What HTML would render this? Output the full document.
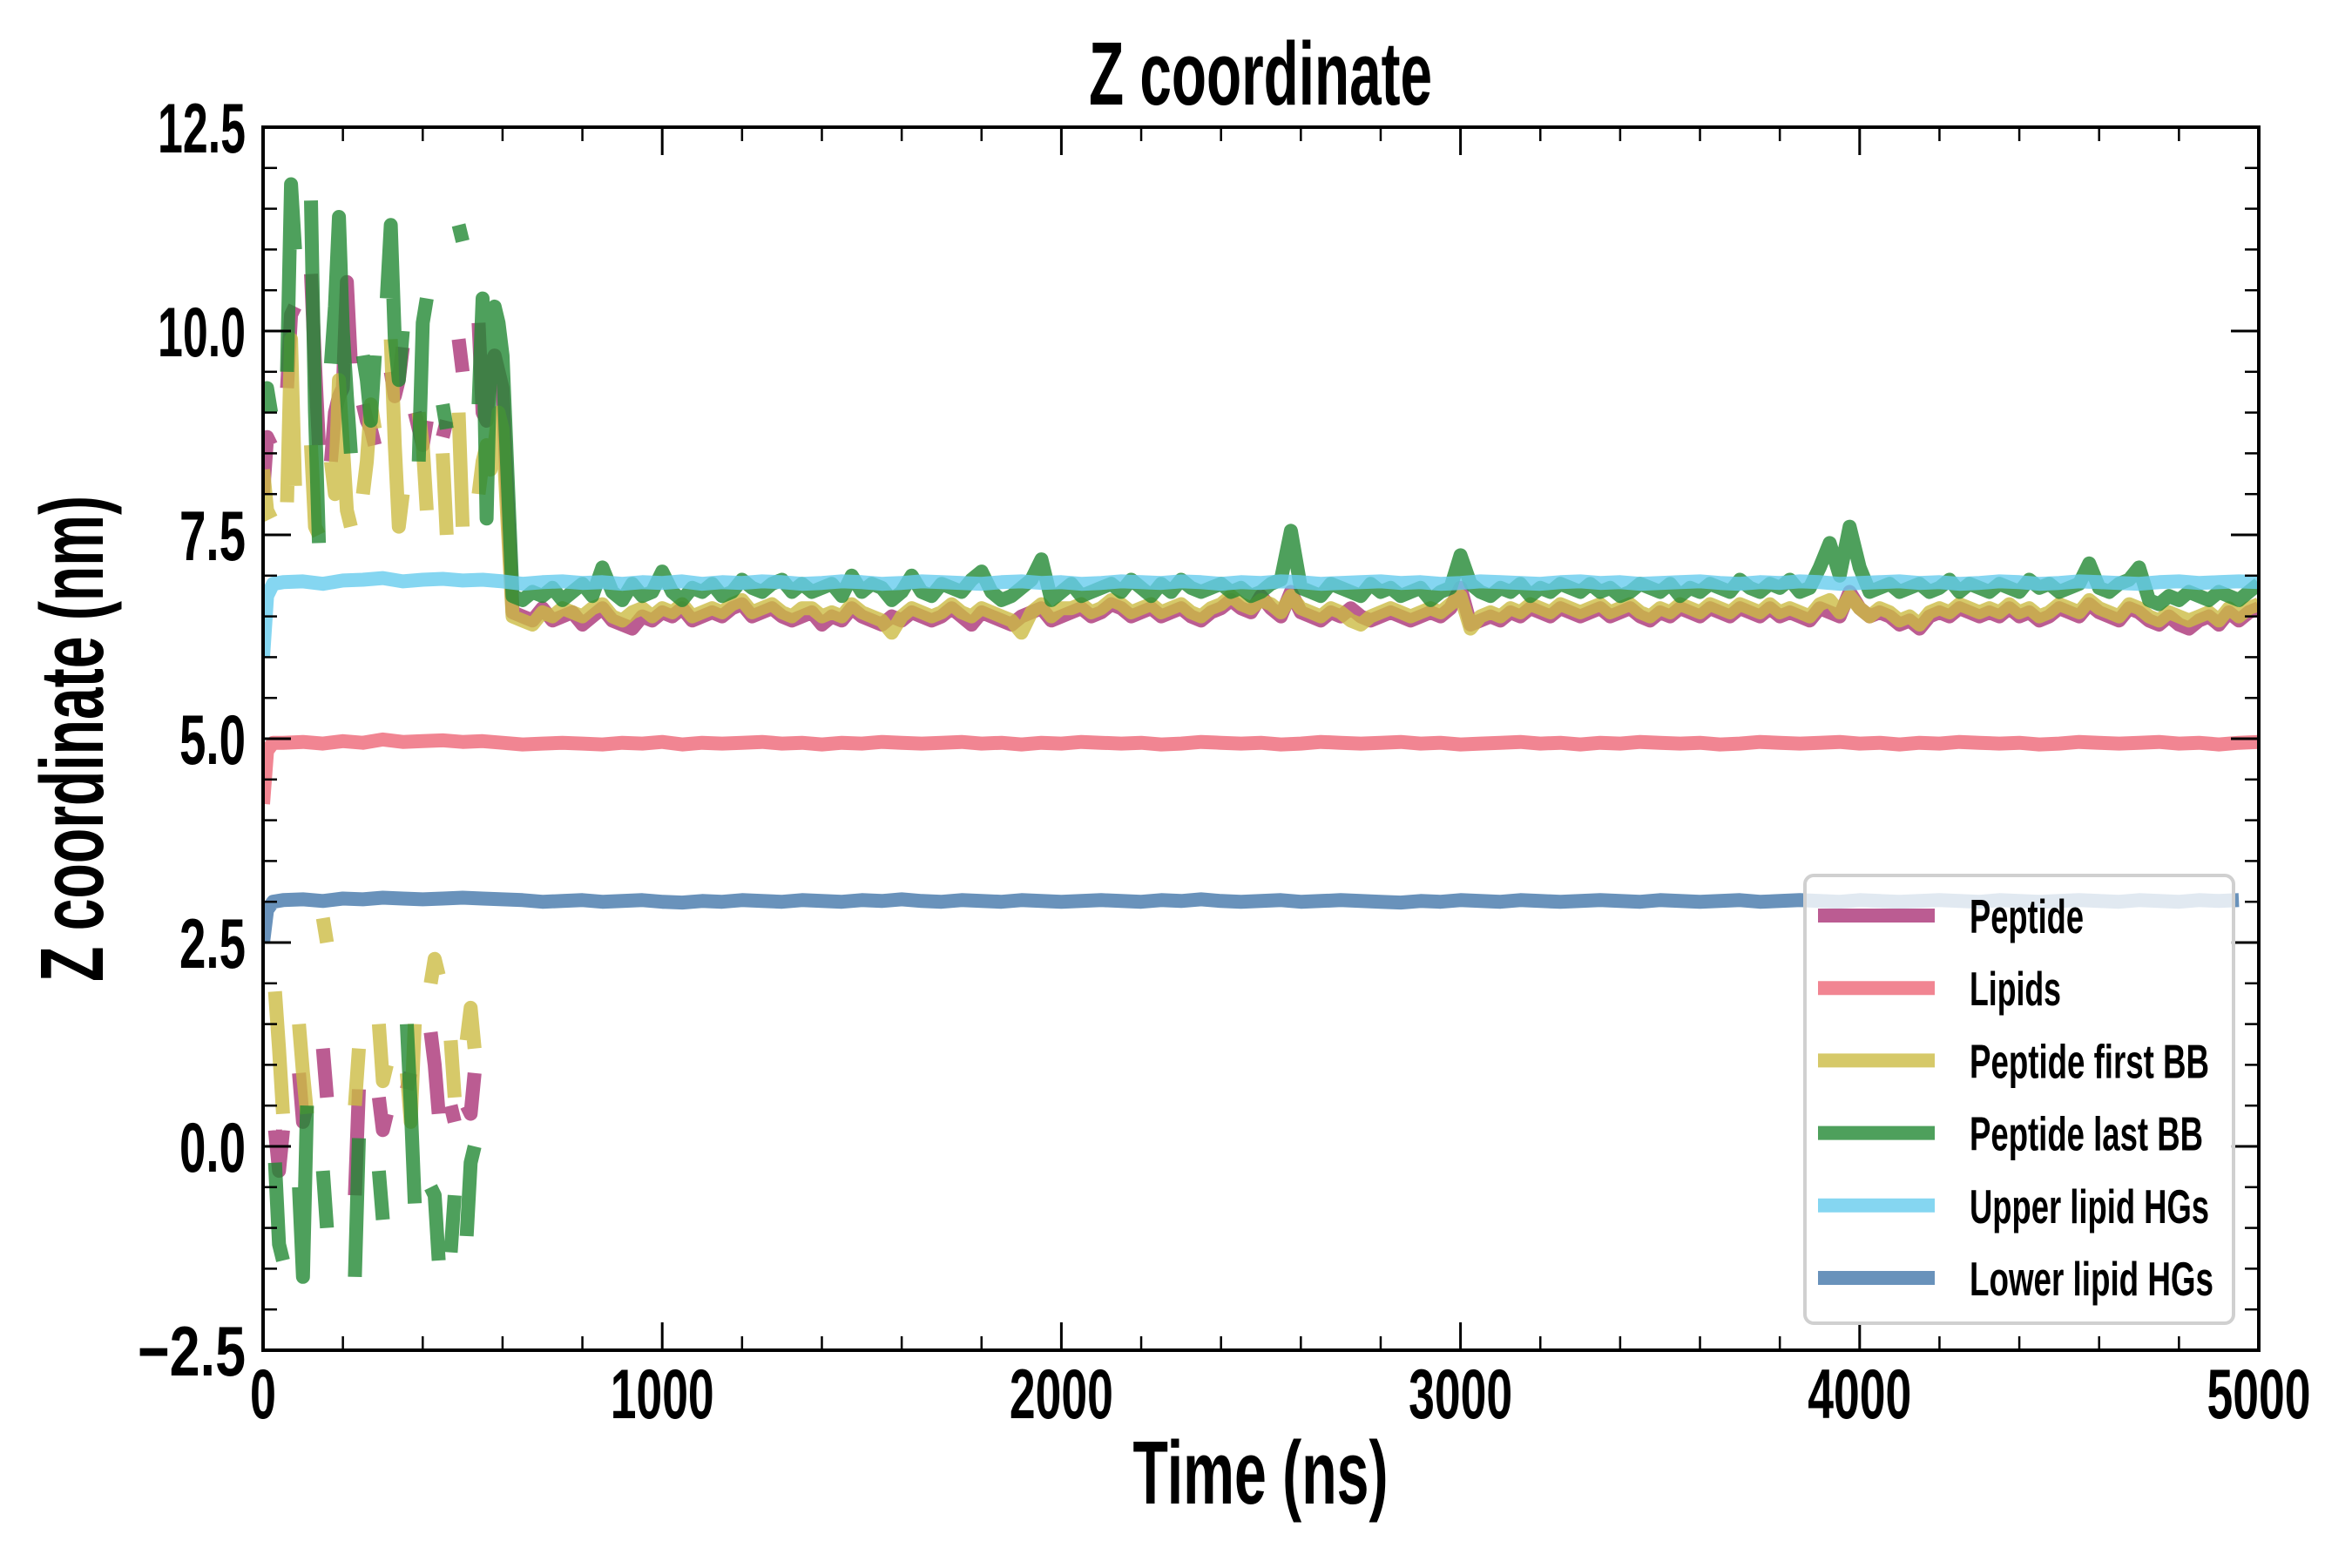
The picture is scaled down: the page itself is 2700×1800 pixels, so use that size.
<!DOCTYPE html>
<html><head><meta charset="utf-8"><title>Z coordinate</title>
<style>
html,body{margin:0;padding:0;background:#fff;}
svg{display:block;}
text{font-family:"Liberation Sans Narrow","Liberation Sans",sans-serif;font-weight:bold;fill:#000;}
</style></head>
<body>
<svg id="chart" width="2700" height="1800" viewBox="0 0 2700 1800" xmlns="http://www.w3.org/2000/svg">
<defs><clipPath id="plotclip"><rect x="302" y="146" width="2291" height="1404"/></clipPath></defs>
<rect x="0" y="0" width="2700" height="1800" fill="#fff"/>
<text x="1447" y="120" text-anchor="middle" font-size="103" textLength="394" lengthAdjust="spacingAndGlyphs">Z coordinate</text>
<text x="1447" y="1726" text-anchor="middle" font-size="103" textLength="293" lengthAdjust="spacingAndGlyphs">Time (ns)</text>
<text transform="translate(118,848) rotate(-90)" x="0" y="0" text-anchor="middle" font-size="103" textLength="558" lengthAdjust="spacingAndGlyphs">Z coordinate (nm)</text>
<g id="series" clip-path="url(#plotclip)"></g>
<g id="axes"></g>
<g id="legend"></g>
</svg>
<script>
// ---- data ----
const earlyTimes = [0,10,20,30,40,50,60,70,80,90,100,110,120,130,140,150,160,170,180,190,200,210,220,230,240,250,260,270,280,290,300,310,320,330,340,350,360,370,380,390,400,410,420,430,440,450,460,470,480,490,500,510,520,530,540,550,560,570,580,590,600];
const peptideEarly = [8.0,8.7,8.6,0.2,-0.3,0.2,9.3,10.2,10.3,0.9,0.3,0.5,10.7,9.6,8.6,1.2,0.6,8.4,9.0,9.2,9.3,10.6,9.6,-0.6,0.7,9.1,8.9,8.8,8.6,0.6,0.2,0.4,9.5,9.2,9.4,9.8,0.7,0.9,9.0,8.8,8.6,8.9,1.4,1.0,0.4,8.7,8.9,0.5,0.3,9.9,9.5,0.5,0.4,0.9,10.1,9.0,8.9,9.6,9.7,9.5,9.3];
const lastBBEarly = [9.2,9.3,9.0,-0.2,-1.2,-1.4,9.5,11.8,11.0,-0.5,-1.6,0.5,11.6,9.0,7.4,-0.3,-1.0,9.6,10.3,11.4,10.0,9.2,8.5,-1.6,0.1,9.7,9.4,8.9,9.7,-0.3,-0.9,10.4,11.3,9.9,9.4,10.0,1.5,0.5,-0.7,8.4,10.1,10.4,-0.5,-0.6,-1.4,9.1,8.8,-1.3,-0.6,11.3,11.1,-1.1,-0.2,0.0,9.1,10.4,7.7,9.8,10.3,10.1,9.7];
const firstBBEarly = [8.3,7.8,7.7,1.9,1.2,0.4,7.9,9.9,8.1,1.5,0.9,0.4,8.6,7.6,7.5,2.8,2.5,8.4,8.0,9.4,8.6,7.8,7.6,0.5,1.2,8.0,8.4,9.1,8.8,1.5,0.8,1.0,9.9,8.6,7.6,8.0,0.9,0.3,1.5,9.0,8.6,7.8,2.0,2.3,2.1,8.5,7.5,1.3,0.6,9.0,7.6,1.3,1.7,1.2,8.0,8.4,8.6,8.3,8.6,9.0,8.8];
// late samples: t = 625 .. 5000, step 25
const peptideLate = [6.55,6.5,6.45,6.6,6.45,6.5,6.55,6.4,6.5,6.6, 6.45,6.4,6.35,6.5,6.45,6.55,6.5,6.6,6.45,6.5, 6.55,6.5,6.6,6.65,6.5,6.55,6.6,6.5,6.45,6.5, 6.55,6.4,6.5,6.45,6.6,6.5,6.45,6.4,6.5,6.45, 6.55,6.5,6.45,6.5,6.6,6.5,6.4,6.55,6.5,6.45, 6.4,6.5,6.55,6.6,6.45,6.5,6.55,6.6,6.5,6.55, 6.65,6.6,6.5,6.55,6.6,6.5,6.55,6.6,6.5,6.45, 6.55,6.6,6.7,6.6,6.55,6.75,6.6,6.5,6.8,6.55, 6.5,6.45,6.55,6.5,6.6,6.5,6.45,6.5,6.55,6.5, 6.45,6.5,6.55,6.5,6.6,6.85,6.4,6.45,6.5,6.45, 6.55,6.5,6.6,6.55,6.5,6.6,6.55,6.5,6.55,6.6, 6.5,6.55,6.6,6.5,6.45,6.55,6.5,6.6,6.55,6.5, 6.6,6.55,6.5,6.6,6.55,6.5,6.6,6.5,6.55,6.5, 6.45,6.6,6.55,6.5,6.8,6.6,6.5,6.55,6.5,6.4, 6.45,6.35,6.5,6.55,6.5,6.6,6.55,6.5,6.55,6.5, 6.6,6.5,6.55,6.45,6.5,6.6,6.55,6.5,6.65,6.55, 6.5,6.45,6.6,6.55,6.45,6.4,6.5,6.4,6.35,6.45, 6.5,6.4,6.55,6.45,6.55,6.6];
const firstBBLate = [6.5,6.45,6.4,6.55,6.5,6.6,6.55,6.5,6.6,6.65, 6.5,6.45,6.55,6.6,6.5,6.6,6.55,6.65,6.5,6.55, 6.6,6.55,6.65,6.7,6.55,6.6,6.65,6.55,6.5,6.6, 6.6,6.5,6.55,6.5,6.65,6.55,6.5,6.45,6.3,6.5, 6.6,6.55,6.5,6.55,6.65,6.55,6.5,6.6,6.55,6.5, 6.45,6.3,6.55,6.65,6.5,6.6,6.6,6.65,6.55,6.6, 6.7,6.65,6.55,6.6,6.65,6.55,6.6,6.65,6.55,6.5, 6.6,6.65,6.75,6.65,6.6,6.7,6.65,6.55,6.75,6.6, 6.55,6.5,6.6,6.55,6.45,6.4,6.5,6.55,6.6,6.55, 6.5,6.55,6.6,6.55,6.65,6.75,6.35,6.5,6.55,6.5, 6.6,6.55,6.65,6.6,6.55,6.65,6.6,6.55,6.6,6.65, 6.55,6.6,6.65,6.55,6.5,6.6,6.55,6.65,6.6,6.55, 6.65,6.6,6.55,6.65,6.6,6.55,6.65,6.55,6.6,6.55, 6.5,6.65,6.7,6.55,6.75,6.6,6.5,6.6,6.55,6.45, 6.5,6.4,6.55,6.6,6.55,6.65,6.6,6.55,6.6,6.55, 6.65,6.55,6.6,6.5,6.55,6.65,6.6,6.55,6.7,6.6, 6.55,6.5,6.65,6.6,6.5,6.45,6.55,6.5,6.45,6.5, 6.55,6.45,6.6,6.5,6.6,6.65];
const lastBBLate = [6.75,6.7,6.8,6.75,6.85,6.7,6.8,6.9,6.75,7.1, 6.8,6.7,6.9,6.75,6.8,7.05,6.8,6.7,6.85,6.8, 6.9,6.75,6.8,6.95,6.85,6.8,6.9,6.95,6.8,6.9, 6.8,6.85,6.9,6.75,7.0,6.8,6.9,6.85,6.7,6.8, 7.0,6.8,6.75,6.9,6.85,6.8,6.95,7.05,6.8,6.7, 6.75,6.85,6.95,7.2,6.7,6.8,6.9,6.75,6.8,6.85, 6.9,6.8,6.95,6.85,6.75,6.9,6.8,6.95,6.85,6.8, 6.85,6.9,6.8,6.85,6.75,6.8,6.9,6.95,7.55,6.85, 6.8,6.75,6.9,6.85,6.8,6.75,6.9,6.8,6.85,6.75, 6.8,6.85,6.7,6.8,6.85,7.25,6.9,6.8,6.75,6.85, 6.8,6.9,6.75,6.85,6.8,6.9,6.85,6.8,6.9,6.8, 6.85,6.75,6.8,6.9,6.85,6.8,6.9,6.75,6.85,6.8, 6.9,6.85,6.8,6.95,6.85,6.8,6.9,6.85,6.95,6.8, 6.85,7.1,7.4,7.0,7.6,7.1,6.8,6.85,6.9,6.8, 6.85,6.9,6.8,6.85,6.95,6.8,6.9,6.85,6.8,6.9, 6.85,6.8,6.95,6.85,6.9,6.8,6.85,6.9,7.15,6.85, 6.8,6.9,6.95,7.1,6.7,6.65,6.75,6.7,6.8,6.75, 6.7,6.8,6.75,6.7,6.8,6.9];
// membrane series: t = 0, 10, 25, then 50..5000 step 50
const upperHG = [6.0,6.75,6.9, 6.92,6.93,6.9,6.94,6.95,6.97,6.93,6.95,6.96,6.94,6.95,6.93,6.9,6.92,6.93,6.91,6.92,6.9,6.92,6.91,6.93,6.9,6.92,6.91,6.93,6.92,6.9,6.91,6.93,6.92,6.9,6.91,6.93,6.92,6.91,6.9,6.92,6.93,6.91,6.92,6.9,6.91,6.93,6.92,6.91,6.93,6.92,6.9,6.92,6.91,6.93,6.92,6.9,6.91,6.92,6.93,6.91,6.92,6.9,6.91,6.93,6.92,6.91,6.9,6.92,6.93,6.91,6.92,6.9,6.91,6.92,6.93,6.91,6.9,6.92,6.91,6.93,6.92,6.9,6.91,6.92,6.93,6.91,6.92,6.9,6.91,6.93,6.92,6.9,6.91,6.93,6.92,6.91,6.9,6.92,6.93,6.91,6.92,6.93,6.92];
const lipids = [4.2,4.85,4.95, 4.95,4.96,4.94,4.97,4.95,4.99,4.96,4.97,4.98,4.96,4.97,4.95,4.93,4.94,4.95,4.94,4.93,4.95,4.94,4.96,4.93,4.95,4.94,4.95,4.96,4.94,4.95,4.93,4.95,4.94,4.96,4.95,4.94,4.95,4.96,4.94,4.95,4.93,4.95,4.94,4.96,4.95,4.94,4.95,4.93,4.94,4.96,4.95,4.94,4.95,4.93,4.94,4.96,4.95,4.94,4.95,4.96,4.94,4.95,4.93,4.94,4.95,4.96,4.94,4.95,4.93,4.95,4.94,4.96,4.95,4.94,4.95,4.93,4.94,4.96,4.95,4.94,4.95,4.96,4.94,4.95,4.93,4.95,4.94,4.96,4.95,4.94,4.95,4.93,4.94,4.96,4.95,4.94,4.95,4.96,4.94,4.95,4.93,4.95,4.96];
const lowerHG = [2.5,2.9,3.0, 3.02,3.03,3.01,3.04,3.03,3.05,3.04,3.03,3.04,3.05,3.04,3.03,3.02,3.0,3.01,3.02,3.0,3.01,3.02,3.0,2.99,3.01,3.0,3.02,3.01,3.0,3.02,3.01,3.0,3.02,3.01,3.03,3.01,3.0,3.02,3.01,3.0,3.02,3.01,3.0,3.01,3.02,3.01,3.0,3.02,3.01,3.03,3.01,3.0,3.01,3.02,3.0,3.01,3.02,3.01,3.0,2.99,3.01,3.0,3.02,3.01,3.0,3.02,3.01,3.0,3.01,3.02,3.01,3.0,3.02,3.01,3.0,3.01,3.02,3.0,3.01,3.02,3.01,3.0,3.02,3.01,3.0,3.01,3.02,3.01,3.0,3.02,3.01,3.0,3.01,3.02,3.01,3.0,3.02,3.01,3.0,3.02,3.01,3.02];
const xTickLabels = ["0","1000","2000","3000","4000","5000"];
const yTickLabels = ["\u22122.5","0.0","2.5","5.0","7.5","10.0","12.5"];
const seriesNames = ["Peptide","Lipids","Peptide first BB","Peptide last BB","Upper lipid HGs","Lower lipid HGs"];

// ---- scales ----
const X0=302, X1=2593, Y0=146, Y1=1550;
const xMin=0, xMax=5000, yMin=-2.5, yMax=12.5;
function xs(v){return X0+(v-xMin)/(xMax-xMin)*(X1-X0);}
function ys(v){return Y1-(v-yMin)/(yMax-yMin)*(Y1-Y0);}
const NS="http://www.w3.org/2000/svg";

const lateTimes=[]; for(let t=625;t<=5000;t+=25) lateTimes.push(t);
const memTimes=[0,10,25]; for(let t=50;t<=5000;t+=50) memTimes.push(t);
const peptideTimes=earlyTimes.concat(lateTimes);

const colors=["#AA3377","#EE6677","#CCBB44","#228833","#66CCEE","#4477AA"];
const seriesList=[
 {t:peptideTimes, v:peptideEarly.concat(peptideLate), name:"peptide-line"},
 {t:memTimes, v:lipids, name:"lipids-line"},
 {t:peptideTimes, v:firstBBEarly.concat(firstBBLate), name:"peptide-first-bb-line"},
 {t:peptideTimes, v:lastBBEarly.concat(lastBBLate), name:"peptide-last-bb-line"},
 {t:memTimes, v:upperHG, name:"upper-lipid-hg-line"},
 {t:memTimes, v:lowerHG, name:"lower-lipid-hg-line"}
];
const gS=document.getElementById("series");
seriesList.forEach((s,k)=>{
  let d="", prev=null;
  for(let i=0;i<s.v.length;i++){
    const x=xs(s.t[i]).toFixed(1), y=ys(s.v[i]).toFixed(1);
    if(prev===null || Math.abs(s.v[i]-prev)>4) d+="M"+x+" "+y; else d+="L"+x+" "+y;
    prev=s.v[i];
  }
  const p=document.createElementNS(NS,"path");
  p.setAttribute("d",d);
  p.setAttribute("fill","none");
  p.setAttribute("stroke",colors[k]);
  p.setAttribute("stroke-opacity","0.8");
  p.setAttribute("stroke-width","16");
  p.setAttribute("stroke-linejoin","round");
  p.setAttribute("stroke-linecap","butt");
  
  
  gS.appendChild(p);
});

// ---- axes ----
const gA=document.getElementById("axes");
function line(x1,y1,x2,y2,w,name){
  const l=document.createElementNS(NS,"line");
  l.setAttribute("x1",x1);l.setAttribute("y1",y1);l.setAttribute("x2",x2);l.setAttribute("y2",y2);
  l.setAttribute("stroke","#000");l.setAttribute("stroke-width",w);
  
  
  gA.appendChild(l);
}
for(let t=0;t<=5000;t+=200){
  const x=xs(t); const major=(t%1000===0); const L=major?32:16; const w=major?3:2.5;
  line(x,Y1,x,Y1-L,w,major?"x-major-tick":"x-minor-tick");
  line(x,Y0,x,Y0+L,w,major?"x-major-tick-top":"x-minor-tick-top");
}
for(let i=0;i<=30;i++){
  const v=-2.5+i*0.5; const y=ys(v); const major=(i%5===0); const L=major?32:16; const w=major?3:2.5;
  line(X0,y,X0+L,y,w,major?"y-major-tick":"y-minor-tick");
  line(X1,y,X1-L,y,w,major?"y-major-tick-right":"y-minor-tick-right");
}
const frame=document.createElementNS(NS,"rect");
frame.setAttribute("x",X0);frame.setAttribute("y",Y0);frame.setAttribute("width",X1-X0);frame.setAttribute("height",Y1-Y0);
frame.setAttribute("fill","none");frame.setAttribute("stroke","#000");frame.setAttribute("stroke-width","4");


gA.appendChild(frame);
xTickLabels.forEach((lab,i)=>{
  const tx=document.createElementNS(NS,"text");
  tx.setAttribute("x",xs(i*1000));tx.setAttribute("y",1628);
  tx.setAttribute("text-anchor","middle");tx.setAttribute("font-size","81");
  tx.setAttribute("textLength",lab.length===1?30:119);tx.setAttribute("lengthAdjust","spacingAndGlyphs");
  tx.textContent=lab;
  
  
  gA.appendChild(tx);
});
yTickLabels.forEach((lab,i)=>{
  const tx=document.createElementNS(NS,"text");
  tx.setAttribute("x",282);tx.setAttribute("y",ys(-2.5+i*2.5)+29);
  tx.setAttribute("text-anchor","end");tx.setAttribute("font-size","81");
  tx.setAttribute("textLength",lab.charAt(0)==="\u2212"?124:(lab.length===4?101:76));tx.setAttribute("lengthAdjust","spacingAndGlyphs");
  tx.textContent=lab;
  
  
  gA.appendChild(tx);
});

// ---- legend ----
const gL=document.getElementById("legend");
const box=document.createElementNS(NS,"rect");
box.setAttribute("x",2072);box.setAttribute("y",1005);box.setAttribute("width",492);box.setAttribute("height",514);
box.setAttribute("rx",10);box.setAttribute("fill","#fff");box.setAttribute("fill-opacity","0.8");
box.setAttribute("stroke","#d0d0d0");box.setAttribute("stroke-width","4");


gL.appendChild(box);
const legendWidths=[131,105,275,268,275,280];
seriesNames.forEach((nm,i)=>{
  const cy=1051+i*83.2;
  const l=document.createElementNS(NS,"line");
  l.setAttribute("x1",2087);l.setAttribute("x2",2221);l.setAttribute("y1",cy);l.setAttribute("y2",cy);
  l.setAttribute("stroke",colors[i]);l.setAttribute("stroke-opacity","0.8");l.setAttribute("stroke-width","16");
  
  
  gL.appendChild(l);
  const tx=document.createElementNS(NS,"text");
  tx.setAttribute("x",2261);tx.setAttribute("y",cy+20);tx.setAttribute("font-size","55");
  tx.setAttribute("textLength",legendWidths[i]);tx.setAttribute("lengthAdjust","spacingAndGlyphs");
  tx.textContent=nm;
  
  
  gL.appendChild(tx);
});
</script>
</body></html>
